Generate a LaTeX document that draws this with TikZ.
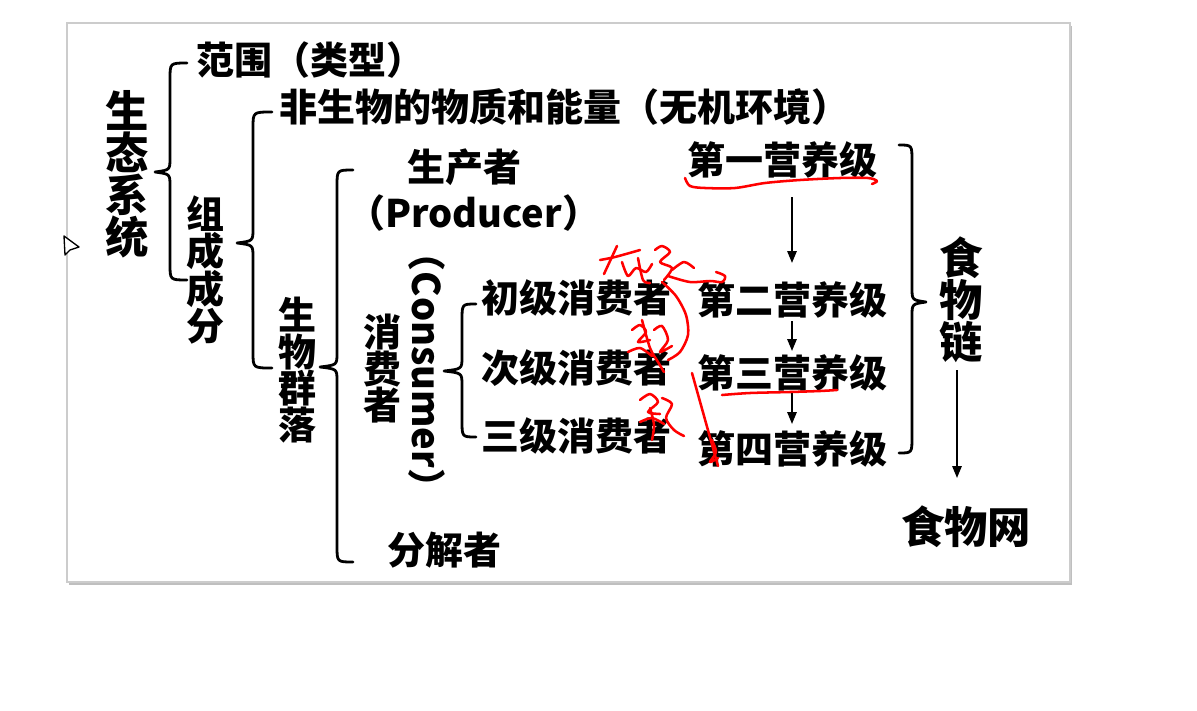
\documentclass[tikz,border=0pt]{standalone}
\usepackage{fontspec}
\setmainfont{Noto Sans CJK SC}
\usetikzlibrary{arrows.meta}
\newcommand\fnorm{\fontsize{28.5}{27.4}\selectfont\bfseries}
\newcommand\fbig{\fontsize{32.5}{31.5}\selectfont\bfseries}
% left brace: ends x, line x, tip x, top y, tip y, bottom y
\newcommand\braceL[6]{%
  \draw[brc] (#1,#4) .. controls (#2,#4) .. (#2,#4+16) -- (#2,#5-14)
    .. controls (#2,#5-2) .. (#3,#5) .. controls (#2,#5+2) .. (#2,#5+14)
    -- (#2,#6-16) .. controls (#2,#6) .. (#1,#6);}
\begin{document}
\begin{tikzpicture}[x=0.75pt,y=-0.75pt,
  txt/.style={inner sep=0pt,font=\fnorm,anchor=west},
  vtxt/.style={inner sep=0pt,font=\fnorm,align=center},
  bigtxt/.style={inner sep=0pt,font=\fbig,align=center},
  brc/.style={line width=2.1pt,line cap=round,line join=round},
  arr/.style={line width=1.5pt,-{Triangle[length=9pt,width=7pt]}},
  ink/.style={red,line width=1.9pt,line cap=round,line join=round}]
\useasboundingbox (0,0) rectangle (1197,711);
\fill[white] (0,0) rectangle (1197,711);
% slide
\fill[black!25] (69,26) rectangle (1072,585);
\fill[white,draw=black!20,line width=0.8pt] (67,23) rectangle (1070,582);
% cursor
\draw[fill=white,line width=1pt,line join=round] (64,236) -- (79,247) -- (70,250) -- (65,255) -- cycle;

% texts
\node[bigtxt] (eco) at (127,174) {生\\态\\系\\统};
\node[txt] (fw) at (196,60) {范围（类型）};
\node[vtxt] (zc) at (205,270) {组\\成\\成\\分};
\node[txt] (fsw) at (279,107) {非生物的物质和能量（无机环境）};
\node[vtxt] (swql) at (297,370) {生\\物\\群\\落};
\node[txt] (scz) at (407,167) {生产者};
\node[txt] (prod) at (347,213) {（Producer）};
\node[vtxt] (xfz) at (382,369) {消\\费\\者};
\node[inner sep=0pt,font=\fnorm,rotate=-90] (cons) at (427,370) {（Consumer）};
\node[txt] (c1) at (481,298) {初级消费者};
\node[txt] (c2) at (481,368) {次级消费者};
\node[txt] (c3) at (481,436) {三级消费者};
\node[txt] (fjz) at (387,550) {分解者};
\node[txt] (l1) at (687,160) {第一营养级};
\node[txt] (l2) at (697,300) {第二营养级};
\node[txt] (l3) at (697,373) {第三营养级};
\node[txt] (l4) at (697,449) {第四营养级};
\node[bigtxt] (fc) at (961,300) {食\\物\\链};
\node[bigtxt,anchor=west] (fweb) at (901,527) {食物网};

% braces
\braceL{187}{170}{155}{63}{172}{280}
\braceL{272}{253}{237}{112}{243}{368}
\braceL{353}{337}{320}{170}{367}{562}
\braceL{476}{462}{444}{304}{371}{437}
% right brace
\draw[brc] (899,145) .. controls (912,145) .. (912,161) -- (912,288)
  .. controls (912,300) .. (926,302) .. controls (912,304) .. (912,316)
  -- (912,437) .. controls (912,453) .. (899,453);

% arrows
\coordinate (a1s) at (792,197); \coordinate (a1e) at (792,263);
\coordinate (a2s) at (792,321); \coordinate (a2e) at (792,351);
\coordinate (a3s) at (792,393); \coordinate (a3e) at (792,424);
\coordinate (a4s) at (957,370); \coordinate (a4e) at (957,478);
\draw[arr] (a1s) -- (a1e);
\draw[arr] (a2s) -- (a2e);
\draw[arr] (a3s) -- (a3e);
\draw[arr] (a4s) -- (a4e);

% red handwriting
\draw[ink] plot[smooth] coordinates {(685,178) (690,186) (705,188) (735,188) (765,183) (800,180) (840,178) (868,178) (877,181) (872,184)};
\draw[ink] plot[smooth] coordinates {(722,395) (750,393) (790,392) (820,391) (837,390)};
\draw[ink] (692,373) -- (718,466);
\draw[ink] plot[smooth] coordinates {(712,440) (716,452) (710,462) (718,458)};
% scribble 1
\draw[ink] (604,274) -- (617,246);
\draw[ink] plot[smooth] coordinates {(600,260) (615,257) (640,250)};
\draw[ink] plot[smooth] coordinates {(622,262) (628,276) (636,268) (646,272) (652,264)};
\draw[ink] plot[smooth] coordinates {(638,258) (643,280) (650,283)};
% scribble 2
\draw[ink] plot[smooth] coordinates {(655,250) (662,246) (670,252) (660,262) (672,268) (664,280)};
\draw[ink] plot[smooth] coordinates {(668,276) (690,282) (710,281) (722,282) (725,276) (716,272)};
\draw[ink] plot[smooth] coordinates {(662,282) (676,296) (686,315) (688,335) (680,352) (668,360)};
\draw[ink] plot[smooth] coordinates {(672,270) (684,262) (694,268)};
% scribble 3
\draw[ink] plot[smooth] coordinates {(632,330) (640,325) (646,332) (638,342) (650,340)};
\draw[ink] plot[smooth] coordinates {(642,320) (650,348) (658,362) (664,372)};
\draw[ink] plot[smooth] coordinates {(654,330) (662,326) (668,340) (660,352) (672,346)};
\draw[ink] plot[smooth] coordinates {(628,352) (640,348) (652,356)};
% scribble 4
\draw[ink] plot[smooth] coordinates {(640,400) (650,394) (658,402) (648,412) (660,414)};
\draw[ink] plot[smooth] coordinates {(650,408) (654,425) (652,440)};
\draw[ink] plot[smooth] coordinates {(662,398) (672,404) (666,418) (674,430) (684,436)};
\draw[ink] plot[smooth] coordinates {(640,422) (652,418) (664,424)};
\end{tikzpicture}
\end{document}
